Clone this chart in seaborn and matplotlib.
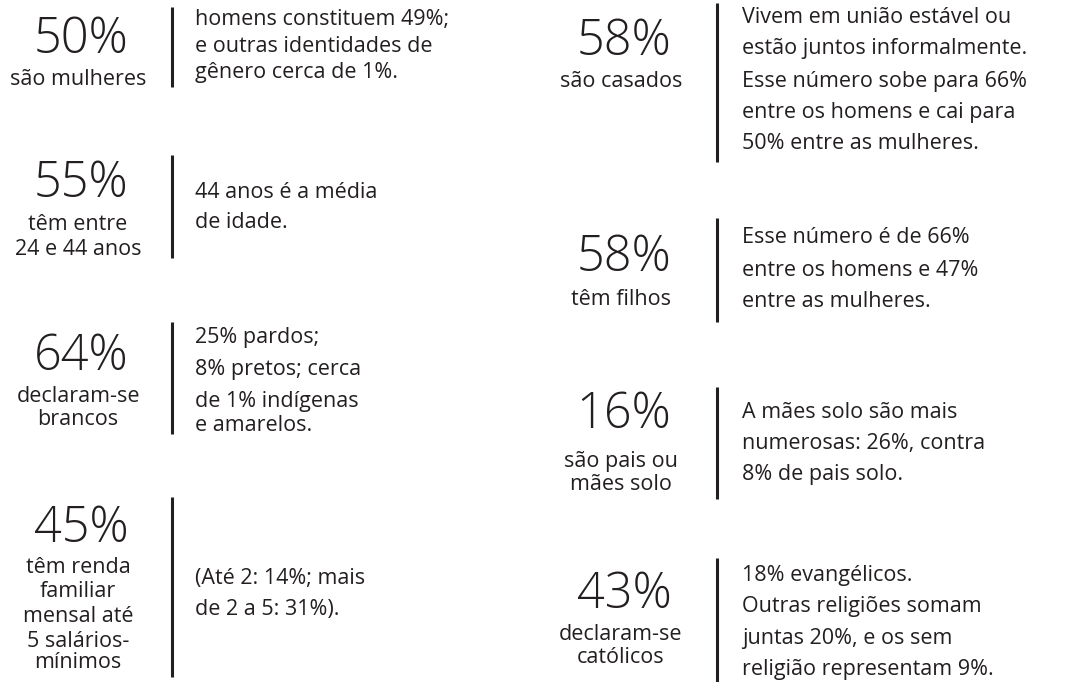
import matplotlib
matplotlib.use('Agg')
import matplotlib.pyplot as plt
import seaborn as sns

# dados
numeros = ["50%", "55%", "64%", "45%", "58%", "58%", "16%", "43%"]
rotulos = [
    ["são mulheres"],
    ["têm entre", "24 e 44 anos"],
    ["declaram-se", "brancos"],
    ["têm renda", "familiar", "mensal até", "5 salários-", "mínimos"],
    ["são casados"],
    ["têm filhos"],
    ["são pais ou", "mães solo"],
    ["declaram-se", "católicos"],
]
descricoes = [
    ["homens constituem 49%;", "e outras identidades de", "gênero cerca de 1%."],
    ["44 anos é a média", "de idade."],
    ["25% pardos;", "8% pretos; cerca", "de 1% indígenas", "e amarelos."],
    ["(Até 2: 14%; mais", "de 2 a 5: 31%)."],
    ["Vivem em união estável ou", "estão juntos informalmente.",
     "Esse número sobe para 66%", "entre os homens e cai para",
     "50% entre as mulheres."],
    ["Esse número é de 66%", "entre os homens e 47%", "entre as mulheres."],
    ["A mães solo são mais", "numerosas: 26%, contra", "8% de pais solo."],
    ["18% evangélicos.", "Outras religiões somam", "juntas 20%, e os sem",
     "religião representam 9%."],
]

# layout (pixels)
coluna = [0, 0, 0, 0, 1, 1, 1, 1]
x_num = [81, 624]
x_barra = [172, 717]
x_desc = [195, 742]
base_num = [53, 197, 370, 542, 55, 271, 428, 608]
base_rot = [[85], [230, 255], [402, 425], [573, 597, 622, 647, 668],
            [87], [305], [467, 490], [640, 663]]
base_desc = [[25, 52, 78], [198, 228], [343, 375, 407, 431], [584, 615],
             [23, 54, 87, 118, 149], [243, 276, 307], [418, 449, 480],
             [581, 612, 644, 675]]
barras = [(7, 87), (155, 258), (322, 434), (497, 677),
          (3, 162), (218, 322), (387, 499), (558, 682)]

sns.set_theme(style="white")
plt.rcParams['font.family'] = ['Open Sans', 'DejaVu Sans']
cor = '#231f20'

fig = plt.figure(figsize=(10.65, 6.82), dpi=100)
ax = fig.add_axes([0, 0, 1, 1])
ax.set_xlim(0, 1065)
ax.set_ylim(682, 0)
ax.axis('off')

for i in range(len(numeros)):
    c = coluna[i]
    # numero grande
    ax.text(x_num[c], base_num[i], numeros[i], fontsize=35, color=cor,
            fontweight='light', ha='center', va='baseline')
    # rotulo abaixo
    for txt, y in zip(rotulos[i], base_rot[i]):
        ax.text(x_num[c] - 3, y, txt, fontsize=15.5, color=cor,
                ha='center', va='baseline')
    # texto a direita
    for txt, y in zip(descricoes[i], base_desc[i]):
        ax.text(x_desc[c], y, txt, fontsize=15.5, color=cor,
                ha='left', va='baseline')
    y0, y1 = barras[i]
    ax.vlines(x_barra[c], y0, y1, color=cor, linewidth=2.2)

plt.savefig('out.png', dpi=100)
plt.close()
